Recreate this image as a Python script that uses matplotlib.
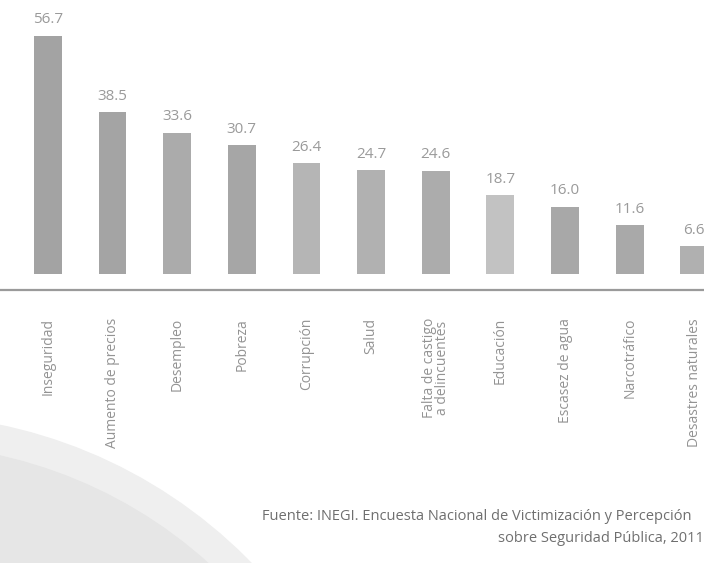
import matplotlib.pyplot as plt
from matplotlib.patches import Circle
from matplotlib.transforms import blended_transform_factory

plt.rcParams["font.family"] = ["Open Sans", "DejaVu Sans"]

categories = [
    "Inseguridad",
    "Aumento de precios",
    "Desempleo",
    "Pobreza",
    "Corrupción",
    "Salud",
    "Falta de castigo\na delincuentes",
    "Educación",
    "Escasez de agua",
    "Narcotráfico",
    "Desastres naturales",
]
values = [56.7, 38.5, 33.6, 30.7, 26.4, 24.7, 24.6, 18.7, 16.0, 11.6, 6.6]
value_labels = ["56.7", "38.5", "33.6", "30.7", "26.4", "24.7", "24.6", "18.7", "16.0", "11.6", "6.6"]
bar_colors = [
    "#a3a3a3", "#a4a4a4", "#ababab", "#a6a6a6",
    "#b5b5b5", "#b1b1b1", "#acacac", "#c2c2c2",
    "#a8a8a8", "#a9a9a9", "#b0b0b0",
]
source_lines = [
    "Fuente: INEGI. Encuesta Nacional de Victimización y Percepción",
    "sobre Seguridad Pública, 2011",
]

width_px, height_px = 704, 563
figure = plt.figure(figsize=(7.04, 5.63), dpi=100)

# background globe shape in the lower left corner
background = figure.add_axes([0, 0, 1, 1])
background.set_xlim(0, width_px)
background.set_ylim(height_px, 0)
background.axis("off")
background.add_patch(Circle((-100, 905), 490, color="#efefef", zorder=0))
background.add_patch(Circle((-100, 905), 460, color="#e6e6e6", zorder=0))

# main bar axes: zero line at 274 px, 4.2 px per unit
axis_top, axis_bottom = 0, 300
scale = 4.2
baseline = 274
axis = figure.add_axes(
    [0, 1 - axis_bottom / height_px, 1, (axis_bottom - axis_top) / height_px]
)
axis.patch.set_alpha(0)
axis.set_ylim(-(axis_bottom - baseline) / scale, (baseline - axis_top) / scale)
axis.set_xlim(-0.74, 10.15)

positions = list(range(len(categories)))
axis.bar(positions, values, width=0.43, color=bar_colors, zorder=2)

for position, value, label in zip(positions, values, value_labels):
    axis.text(
        position,
        value + 2.0,
        label,
        ha="center",
        va="bottom",
        fontsize=11,
        color="#9a9a9a",
    )

axis.axhline(-(290 - baseline) / scale, color="#9a9a9a", linewidth=1.6, zorder=1)

label_transform = blended_transform_factory(axis.transData, figure.transFigure)
for position, category in zip(positions, categories):
    axis.text(
        position,
        1 - 318 / height_px,
        category,
        rotation=90,
        ha="center",
        va="top",
        fontsize=10,
        color="#939393",
        linespacing=0.85,
        transform=label_transform,
        clip_on=False,
    )

axis.axis("off")

figure.text(262 / width_px, 1 - 517 / height_px, source_lines[0],
            fontsize=10.5, color="#6f6f6f", va="center", ha="left")
figure.text(498 / width_px, 1 - 538 / height_px, source_lines[1],
            fontsize=10.5, color="#6f6f6f", va="center", ha="left")

figure.savefig("out.png", dpi=100)
plt.close(figure)
